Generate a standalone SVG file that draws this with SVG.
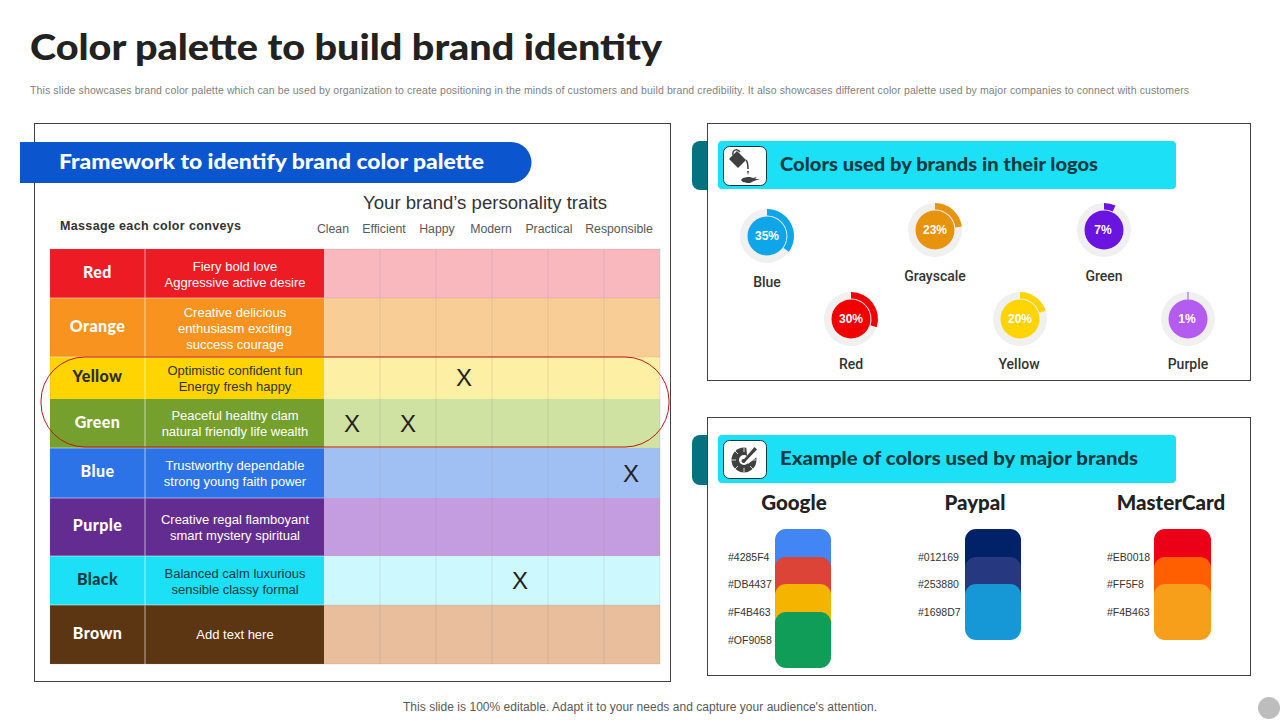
<svg xmlns="http://www.w3.org/2000/svg" width="1280" height="720" viewBox="0 0 1280 720">
<style>
text{font-family:"Liberation Sans",Arial,sans-serif}
.h{font-family:Lato,"Open Sans",sans-serif;font-weight:900}
.box{fill:#fff;stroke:#404040;stroke-width:1}
.nm{font-family:Lato,sans-serif;font-weight:900;font-size:16px;letter-spacing:.4px;text-anchor:middle;fill:#fff}
.msg{font-size:13px;text-anchor:middle;fill:#fff}
.dk{fill:#123a44}
.tr{font-size:12.300px;text-anchor:middle;fill:#595959}
.x{font-size:24px;text-anchor:middle;fill:#222}
.gl{stroke:#8a8a8a;stroke-opacity:.18;stroke-width:1;fill:none}
.ws{stroke:#fff;stroke-opacity:.5;stroke-width:1.200;fill:none}
.ring{fill:#f0f0f0}
.pct{font-family:"Liberation Sans",sans-serif;font-size:12px;font-weight:bold;text-anchor:middle;fill:#fff}
.dl{font-family:Roboto,sans-serif;font-weight:500;font-size:14px;text-anchor:middle;fill:#333}
.bh{font-family:Lato,sans-serif;font-weight:900;font-size:20.500px;text-anchor:middle;fill:#222}
.hx{font-size:10.500px;fill:#333}
.tab{fill:#05737f}
.cy{fill:#1CE0F5}
.ic{fill:#fff;stroke:#123a44;stroke-width:1}
.ig{fill:#404040}
</style>
<rect width="1280" height="720" fill="#fff"/>
<g id="header">
<text x="30" y="60" class="h" font-size="36" fill="#222" textLength="632" lengthAdjust="spacingAndGlyphs">Color palette to build brand identity</text>
<text x="30" y="94" font-size="10.500" fill="#7f7f7f" textLength="1159" lengthAdjust="spacing">This slide showcases brand color palette which can be used by organization to create positioning in the minds of customers and build brand credibility. It also showcases different color palette used by major companies to connect with customers</text>
</g>
<g id="framework">
<rect class="box" x="34.500" y="123.500" width="636" height="558"/>
<path d="M20 142H511a20.500 20.500 0 0 1 0 41H20Z" fill="#0B55CF"/>
<text x="59" y="169" class="h" font-size="20" fill="#fff" textLength="425" lengthAdjust="spacingAndGlyphs">Framework to identify brand color palette</text>
<text x="485" y="209" font-size="18" text-anchor="middle" fill="#333" textLength="244" lengthAdjust="spacingAndGlyphs">Your brand’s personality traits</text>
<text x="60" y="230" font-size="12.500" font-weight="bold" fill="#333" textLength="181" lengthAdjust="spacing">Massage each color conveys</text>
<text x="333" y="233" class="tr">Clean</text>
<text x="384" y="233" class="tr">Efficient</text>
<text x="437" y="233" class="tr">Happy</text>
<text x="491" y="233" class="tr">Modern</text>
<text x="549" y="233" class="tr">Practical</text>
<text x="619" y="233" class="tr">Responsible</text>
</g>
<g id="table">
<g id="row-red"><rect x="50" y="249" width="274" height="49" fill="#ED1C24"/><rect x="324" y="249" width="336" height="49" fill="#F9B8BD"/><text x="97.500" y="278" class="nm">Red</text><text x="235" y="271" class="msg">Fiery bold love</text><text x="235" y="287" class="msg">Aggressive active desire</text></g>
<g id="row-orange"><rect x="50" y="298" width="274" height="59" fill="#F7931E"/><rect x="324" y="298" width="336" height="59" fill="#F9CD96"/><text x="97.500" y="332" class="nm">Orange</text><text x="235" y="317" class="msg">Creative delicious</text><text x="235" y="333" class="msg">enthusiasm exciting</text><text x="235" y="349" class="msg">success courage</text></g>
<g id="row-yellow"><rect x="50" y="357" width="274" height="42" fill="#FFD400"/><rect x="324" y="357" width="336" height="42" fill="#FDEFA3"/><text x="97.500" y="382" class="nm" style="fill:#2d2d1e">Yellow</text><text x="235" y="375" class="msg" style="fill:#333">Optimistic confident fun</text><text x="235" y="391" class="msg" style="fill:#333">Energy fresh happy</text></g>
<g id="row-green"><rect x="50" y="399" width="274" height="49" fill="#76A02E"/><rect x="324" y="399" width="336" height="49" fill="#CFE2A2"/><text x="97.500" y="428" class="nm">Green</text><text x="235" y="420" class="msg">Peaceful healthy clam</text><text x="235" y="436" class="msg">natural friendly life wealth</text></g>
<g id="row-blue"><rect x="50" y="448" width="274" height="50" fill="#2B73E6"/><rect x="324" y="448" width="336" height="50" fill="#A0C0F4"/><text x="97.500" y="477" class="nm">Blue</text><text x="235" y="470" class="msg">Trustworthy dependable</text><text x="235" y="486" class="msg">strong young faith power</text></g>
<g id="row-purple"><rect x="50" y="498" width="274" height="58" fill="#622C90"/><rect x="324" y="498" width="336" height="58" fill="#C49CE0"/><text x="97.500" y="531" class="nm">Purple</text><text x="235" y="524" class="msg">Creative regal flamboyant</text><text x="235" y="540" class="msg">smart mystery spiritual</text></g>
<g id="row-black"><rect x="50" y="556" width="274" height="49" fill="#1CE0F5"/><rect x="324" y="556" width="336" height="49" fill="#CDF8FE"/><text x="97.500" y="585" class="nm dk">Black</text><text x="235" y="578" class="msg dk">Balanced calm luxurious</text><text x="235" y="594" class="msg dk">sensible classy formal</text></g>
<g id="row-brown"><rect x="50" y="605" width="274" height="59" fill="#5C3512"/><rect x="324" y="605" width="336" height="59" fill="#E8BE9C"/><text x="97.500" y="639" class="nm">Brown</text><text x="235" y="639" class="msg">Add text here</text></g>
<path class="gl" d="M380 249V664M436 249V664M492 249V664M548 249V664M604 249V664M50 249H660V664H50Z"/>
<path class="ws" d="M145 249V664M50 298H324M50 357H324M50 448H324M50 498H324M50 556H324M50 605H324"/>
<path class="gl" d="M324 298H660M324 357H660M324 605H660"/>
<text x="464" y="386" class="x">X</text>
<text x="352" y="432" class="x">X</text>
<text x="408" y="432" class="x">X</text>
<text x="631" y="482" class="x">X</text>
<text x="520" y="589" class="x">X</text>
<rect id="highlight" x="41" y="357" width="628" height="90" rx="44" fill="none" stroke="#C0151B" stroke-width="1"/>
</g>
<g id="logos-panel">
<rect class="tab" x="692" y="141" width="40" height="49" rx="8"/>
<rect class="box" x="707.500" y="123.500" width="543" height="257"/>
<rect class="cy" x="718" y="141" width="458" height="48" rx="4"/>
<rect class="ic" x="723.500" y="146.500" width="43" height="39" rx="6"/>
<g class="ig">
<path d="M729 159l8-8 9 9-8 8Z"/>
<path d="M733 155c-1-5 4-7 7-3" fill="none" stroke="#404040" stroke-width="1.500"/>
<path d="M746 160c2 2 2 5 2 9" fill="none" stroke="#404040" stroke-width="1.500"/>
<path d="M747 171h2l-1 4ZM741 180c2-3 6-3 9-3l3 1 4-1-2 2 5 0-6 2-4 2c-4 0-7 0-9-3Z"/>
</g>
<text x="780" y="171" class="h dk" font-size="19" textLength="318" lengthAdjust="spacingAndGlyphs">Colors used by brands in their logos</text>
<g id="donut-blue"><circle class="ring" cx="767" cy="236" r="27"/><circle cx="767" cy="236" r="19.500" fill="#0EA5E9"/><path d="M767 209A27 27 0 0 1 788.840 251.870L783.580 248.050A20.500 20.500 0 0 0 767 215.500Z" fill="#0EA5E9"/><text x="767" y="240" class="pct">35%</text><text x="767" y="287" class="dl">Blue</text></g>
<g id="donut-grayscale"><circle class="ring" cx="935" cy="230" r="27"/><circle cx="935" cy="230" r="19.500" fill="#E8930C"/><path d="M935 203A27 27 0 0 1 961.790 226.600L955.340 227.430A20.500 20.500 0 0 0 935 209.500Z" fill="#E8930C"/><text x="935" y="234" class="pct">23%</text><text x="935" y="281" class="dl">Grayscale</text></g>
<g id="donut-green"><circle class="ring" cx="1104" cy="230" r="27"/><circle cx="1104" cy="230" r="19.500" fill="#6A14E0"/><path d="M1104 203A27 27 0 0 1 1115.500 205.570L1112.730 211.450A20.500 20.500 0 0 0 1104 209.500Z" fill="#6A14E0"/><text x="1103" y="234" class="pct">7%</text><text x="1104" y="281" class="dl">Green</text></g>
<g id="donut-red"><circle class="ring" cx="851" cy="319" r="27"/><circle cx="851" cy="319" r="19.500" fill="#F20000"/><path d="M851 292A27 27 0 0 1 876.680 327.340L870.500 325.330A20.500 20.500 0 0 0 851 298.500Z" fill="#F20000"/><text x="851" y="323" class="pct">30%</text><text x="851" y="369" class="dl">Red</text></g>
<g id="donut-yellow"><circle class="ring" cx="1020" cy="319" r="27"/><circle cx="1020" cy="319" r="19.500" fill="#FFD400"/><path d="M1020 292A27 27 0 0 1 1045.680 310.660L1039.500 312.670A20.500 20.500 0 0 0 1020 298.500Z" fill="#FFD400"/><text x="1020" y="323" class="pct">20%</text><text x="1019" y="369" class="dl">Yellow</text></g>
<g id="donut-purple"><circle class="ring" cx="1188" cy="319" r="27"/><circle cx="1188" cy="319" r="19.500" fill="#B45CF0"/><path d="M1188 292V299.500" stroke="#9A5AD0" stroke-width="1"/><text x="1187" y="323" class="pct">1%</text><text x="1188" y="369" class="dl">Purple</text></g>
</g>
<g id="brands-panel">
<rect class="tab" x="692" y="435" width="40" height="50" rx="8"/>
<rect class="box" x="707.500" y="417.500" width="543" height="258"/>
<rect class="cy" x="718" y="435" width="458" height="48" rx="4"/>
<rect class="ic" x="723.500" y="440.500" width="43" height="38" rx="6"/>
<g class="ig">
<circle cx="744" cy="460" r="12.500"/>
<path d="M744 447.500V452M731.500 460H736M735 451l3 3M735 469l3-3M744 472.500V468M753 469l-3-3M756.500 460H752" stroke="#fff" stroke-width=".8" fill="none"/>
<path d="M746 445l12 0 0 11-10 8Z" fill="#fff"/>
<circle cx="744" cy="460" r="5" fill="#fff"/>
<path d="M742.500 461l12-14 2.500 2.500-12.500 13Z"/>
<circle cx="743.500" cy="461" r="2"/>
</g>
<text x="780" y="465" class="h dk" font-size="19" textLength="358" lengthAdjust="spacingAndGlyphs">Example of colors used by major brands</text>
<g id="brand-google">
<text x="794" y="510" class="bh">Google</text>
<rect x="775" y="529" width="56" height="55" rx="11" fill="#4285F4"/>
<rect x="775" y="557" width="56" height="55" rx="11" fill="#DB4437"/>
<rect x="775" y="584" width="56" height="55" rx="11" fill="#F4B400"/>
<rect x="775" y="612" width="56" height="56" rx="11" fill="#0F9D58"/>
<text x="728" y="561" class="hx">#4285F4</text>
<text x="728" y="588" class="hx">#DB4437</text>
<text x="728" y="616" class="hx">#F4B463</text>
<text x="728" y="644" class="hx">#OF9058</text>
</g>
<g id="brand-paypal">
<text x="975" y="510" class="bh">Paypal</text>
<rect x="965" y="529" width="56" height="55" rx="11" fill="#012169"/>
<rect x="965" y="557" width="56" height="55" rx="11" fill="#253880"/>
<rect x="965" y="584" width="56" height="56" rx="11" fill="#1698D7"/>
<text x="918" y="561" class="hx">#012169</text>
<text x="918" y="588" class="hx">#253880</text>
<text x="918" y="616" class="hx">#1698D7</text>
</g>
<g id="brand-mastercard">
<text x="1171" y="510" class="bh">MasterCard</text>
<rect x="1154" y="529" width="57" height="55" rx="11" fill="#EB0018"/>
<rect x="1154" y="557" width="57" height="55" rx="11" fill="#FF5F00"/>
<rect x="1154" y="584" width="57" height="56" rx="11" fill="#F79E1B"/>
<text x="1107" y="561" class="hx">#EB0018</text>
<text x="1107" y="588" class="hx">#FF5F8</text>
<text x="1107" y="616" class="hx">#F4B463</text>
</g>
</g>
<g id="footer">
<text x="640" y="711" font-size="12" text-anchor="middle" fill="#595959" textLength="474" lengthAdjust="spacing">This slide is 100% editable. Adapt it to your needs and capture your audience's attention.</text>
<circle cx="1269" cy="708" r="11" fill="#BDBDBD"/>
</g>
</svg>
